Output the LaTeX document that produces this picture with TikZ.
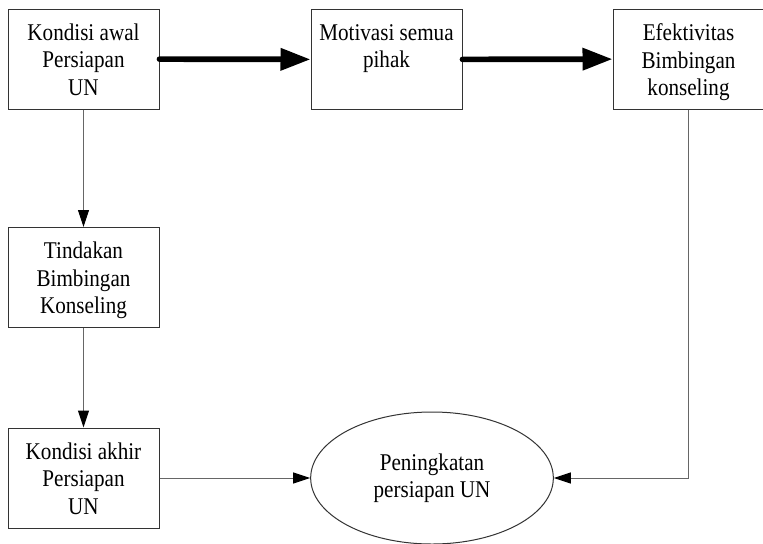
\documentclass[tikz,border=0pt]{standalone}
\usepackage{fontspec}
\setmainfont{Liberation Serif}[FakeStretch=0.88]
\usetikzlibrary{arrows.meta,shapes.geometric}
\newcommand{\boxtext}[1]{\parbox[c][75pt][t]{113pt}{\centering\vspace*{11pt}#1}}
\begin{document}
\begin{tikzpicture}[x=0.75pt,y=-0.75pt,
  font=\fontsize{18}{20.6}\selectfont,
  box/.style={draw=black!80,line width=0.75pt,inner sep=0pt,minimum width=113.25pt,minimum height=75pt},
  oval/.style={draw=black!80,line width=0.75pt,ellipse,minimum width=182pt,minimum height=99pt,align=center},
  thick arrow/.style={line width=4.25pt,line cap=round,-{Triangle[length=22.5pt,width=16pt]}},
  thin arrow/.style={draw=black!60,line width=0.75pt,-{Triangle[length=12.75pt,width=8.25pt,color=black]}}]
\useasboundingbox (0,0) rectangle (763,543);
% boxes
\node[box] (awal) at (83.5,59) {\boxtext{Kondisi awal\\Persiapan\\UN}};
\node[box] (motivasi) at (386.5,59.5) {\boxtext{Motivasi semua\\pihak}};
\node[box] (efektif) at (688.5,59) {\boxtext{Efektivitas\\Bimbingan\\konseling}};
\node[box] (tindakan) at (83.5,277.5) {\boxtext{Tindakan\\Bimbingan\\Konseling}};
\node[box] (akhir) at (83.5,478) {\boxtext{Kondisi akhir\\Persiapan\\UN}};
\node[oval] (hasil) at (432,478) {Peningkatan\\persiapan UN};
% arrows
\draw[thick arrow] (awal) -- (motivasi);
\draw[thick arrow] (motivasi) -- (efektif);
\draw[thin arrow] (awal) -- (tindakan);
\draw[thin arrow] (tindakan) -- (akhir);
\draw[thin arrow] (akhir) -- (hasil);
\draw[thin arrow] (efektif.south) |- (hasil.east);
\end{tikzpicture}
\end{document}
